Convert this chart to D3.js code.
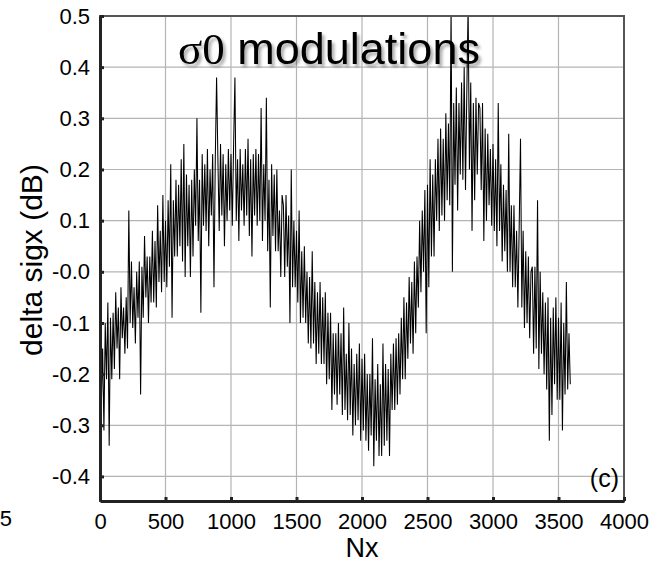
<!DOCTYPE html>
<html>
<head>
<meta charset="utf-8">
<script src="https://cdn.jsdelivr.net/npm/d3@7"></script>
<style>
  body { margin: 0; background: #fff; }
  text { font-family: "Liberation Sans", Arial, sans-serif; }
</style>
</head>
<body>
<script>
var width = 654;
var height = 562;
var margin = {top: 16, right: 30, bottom: 61, left: 100}; // plot frame

// delta sigx (dB), one sample every 10 Nx starting at 0
var nxStep = 10;
var sigx = [
  -0.13, -0.26, -0.15, -0.31, -0.10, -0.21, -0.06, -0.34, -0.09, -0.21,
  -0.08, -0.19, -0.04, -0.15, -0.07, -0.21, -0.03, -0.13, -0.07, -0.16,
  -0.05, -0.15, 0.12, -0.10, 0.02, -0.11, -0.03, -0.14, 0.00, -0.09,
  0.02, -0.24, 0.01, -0.09, 0.07, -0.05, 0.03, -0.10, 0.03, -0.06,
  0.08, -0.06, 0.06, -0.07, 0.13, -0.02, 0.08, -0.04, 0.15, -0.02,
  0.10, -0.03, 0.14, 0.01, 0.21, -0.09, 0.14, 0.03, 0.18, 0.03,
  0.17, 0.05, 0.22, 0.02, 0.25, -0.01, 0.19, 0.05, 0.17, -0.01,
  0.18, 0.03, 0.20, 0.09, 0.30, 0.06, 0.18, -0.08, 0.23, 0.09,
  0.21, 0.08, 0.24, 0.05, 0.20, 0.11, 0.23, -0.03, 0.22, 0.38,
  0.22, 0.08, 0.25, 0.11, 0.23, 0.05, 0.21, 0.10, 0.24, 0.12,
  0.23, 0.09, 0.25, 0.38, 0.10, 0.22, 0.06, 0.24, 0.12, 0.21,
  0.09, 0.24, 0.11, 0.26, 0.07, 0.22, 0.03, 0.23, 0.11, 0.24,
  0.09, 0.23, 0.10, 0.32, 0.06, 0.21, 0.10, 0.34, 0.04, 0.18,
  -0.07, 0.21, 0.07, 0.19, 0.04, 0.20, 0.04, 0.12, -0.01, 0.15,
  0.13, -0.01, 0.15, 0.01, 0.11, -0.10, 0.20, -0.03, 0.10, -0.03,
  0.08, -0.06, 0.12, -0.10, 0.04, -0.09, 0.05, -0.10, 0.00, -0.14,
  -0.01, -0.15, 0.04, -0.14, -0.02, -0.18, -0.04, -0.16, -0.02, -0.18,
  -0.05, -0.18, -0.04, -0.22, -0.08, -0.21, -0.08, -0.27, -0.12, -0.24,
  -0.12, -0.26, -0.10, -0.24, -0.12, -0.28, -0.07, -0.27, -0.16, -0.29,
  -0.10, -0.28, -0.15, -0.32, -0.18, -0.30, -0.16, -0.29, -0.14, -0.33,
  -0.17, -0.31, -0.16, -0.33, -0.20, -0.35, -0.20, -0.32, -0.13, -0.38,
  -0.21, -0.33, -0.18, -0.36, -0.22, -0.36, -0.14, -0.34, -0.18, -0.33,
  -0.19, -0.36, -0.16, -0.27, -0.14, -0.27, -0.13, -0.26, -0.12, -0.24,
  -0.09, -0.21, -0.05, -0.21, -0.06, -0.17, -0.01, -0.14, -0.02, -0.16,
  0.02, -0.12, 0.03, -0.07, 0.10, -0.04, 0.12, 0.00, 0.16, -0.12,
  0.17, -0.03, 0.22, 0.03, 0.19, 0.03, 0.22, 0.10, 0.26, 0.08,
  0.28, 0.11, 0.26, 0.10, 0.31, 0.14, 0.29, 0.13, 0.52, 0.00,
  0.33, 0.17, 0.36, 0.12, 0.33, 0.19, 0.37, 0.18, 0.40, 0.16,
  0.35, 0.52, 0.20, 0.37, 0.08, 0.33, 0.14, 0.34, 0.19, 0.33,
  0.32, 0.16, 0.33, 0.06, 0.28, 0.10, 0.27, 0.13, 0.24, 0.09,
  0.25, 0.08, 0.22, 0.05, 0.33, 0.08, 0.21, 0.02, 0.17, 0.04,
  0.16, 0.00, 0.27, 0.00, 0.13, -0.03, 0.13, -0.03, 0.08, -0.07,
  0.09, 0.26, -0.07, 0.08, -0.11, 0.04, -0.10, 0.03, -0.13, 0.00,
  0.01, -0.16, 0.01, -0.15, 0.14, -0.19, 0.00, -0.16, -0.04, -0.20,
  -0.06, -0.23, -0.05, -0.33, -0.09, -0.28, -0.07, -0.22, -0.05, -0.25,
  -0.09, -0.25, -0.06, -0.31, -0.10, -0.24, -0.02, -0.23, -0.12, -0.22
];

var xTicks = [0, 500, 1000, 1500, 2000, 2500, 3000, 3500, 4000];
var yTicks = [0.5, 0.4, 0.3, 0.2, 0.1, 0.0, -0.1, -0.2, -0.3, -0.4];
var yTickLabels = ["0.5", "0.4", "0.3", "0.2", "0.1", "-0.0", "-0.1", "-0.2", "-0.3", "-0.4"];

var svg = d3.select("body").append("svg")
    .attr("width", width)
    .attr("height", height);

var x = d3.scaleLinear().domain([0, 4000]).range([margin.left, width - margin.right]);
var y = d3.scaleLinear().domain([-0.448, 0.5]).range([height - margin.bottom, margin.top]);

var defs = svg.append("defs");
defs.append("clipPath").attr("id", "plotclip")
  .append("rect")
    .attr("x", x(0)).attr("y", y(0.5))
    .attr("width", x(4000) - x(0)).attr("height", y(-0.448) - y(0.5));

var shadow = defs.append("filter").attr("id", "shadow")
    .attr("x", "-10%").attr("y", "-20%").attr("width", "130%").attr("height", "160%");
shadow.append("feDropShadow")
    .attr("dx", 2.5).attr("dy", 3).attr("stdDeviation", 1.8)
    .attr("flood-color", "#000").attr("flood-opacity", 0.35);

// grid
svg.append("g")
  .selectAll("line")
  .data(xTicks.slice(1, -1))
  .enter().append("line")
    .attr("x1", function(d) { return x(d); })
    .attr("x2", function(d) { return x(d); })
    .attr("y1", y(0.5)).attr("y2", y(-0.448))
    .attr("stroke", "#b4b4b4").attr("stroke-width", 1.2);

svg.append("g")
  .selectAll("line")
  .data(yTicks.slice(1))
  .enter().append("line")
    .attr("x1", x(0)).attr("x2", x(4000))
    .attr("y1", function(d) { return y(d); })
    .attr("y2", function(d) { return y(d); })
    .attr("stroke", "#b4b4b4").attr("stroke-width", 1.2);

// title sits under the trace
var title = svg.append("text")
    .attr("x", 178).attr("y", 64)
    .attr("font-size", 45)
    .attr("fill", "#000")
    .attr("filter", "url(#shadow)");
title.append("tspan")
    .style("font-family", "'Liberation Serif', 'Times New Roman', serif")
    .text("σ0");
title.append("tspan")
    .text(" modulations");

var line = d3.line()
    .x(function(d, i) { return x(i * nxStep); })
    .y(function(d) { return y(d); });

svg.append("path")
    .datum(sigx)
    .attr("clip-path", "url(#plotclip)")
    .attr("fill", "none")
    .attr("stroke", "#000")
    .attr("stroke-width", 1.05)
    .attr("stroke-linejoin", "miter")
    .attr("d", line);

// frame
svg.append("rect")
    .attr("x", x(0)).attr("y", y(0.5))
    .attr("width", x(4000) - x(0)).attr("height", y(-0.448) - y(0.5))
    .attr("fill", "none").attr("stroke", "#555").attr("stroke-width", 2);

var xAxis = svg.append("g")
    .attr("transform", "translate(0," + y(-0.448) + ")")
    .call(d3.axisBottom(x).tickValues(xTicks).tickSizeInner(-4).tickSizeOuter(0).tickPadding(12)
      .tickFormat(function(d) { return d; }));
xAxis.select(".domain").attr("stroke", "#222").attr("stroke-width", 3);
xAxis.selectAll(".tick line").attr("stroke", "#222").attr("stroke-width", 3);
xAxis.selectAll("text").attr("font-size", 22).attr("fill", "#000")
    .style("font-family", "'Liberation Sans', Arial, sans-serif");

var yAxis = svg.append("g")
    .attr("transform", "translate(" + x(0) + ",0)")
    .call(d3.axisLeft(y).tickValues(yTicks).tickSizeInner(-4).tickSizeOuter(0).tickPadding(10)
      .tickFormat(function(d, i) { return yTickLabels[i]; }));
yAxis.select(".domain").attr("stroke", "#222").attr("stroke-width", 3);
yAxis.selectAll(".tick line").attr("stroke", "#222").attr("stroke-width", 3);
yAxis.selectAll("text").attr("font-size", 22).attr("fill", "#000")
    .style("font-family", "'Liberation Sans', Arial, sans-serif");

// axis labels
svg.append("text")
    .attr("x", (x(0) + x(4000)) / 2).attr("y", 557)
    .attr("text-anchor", "middle")
    .attr("font-size", 27)
    .text("Nx");

svg.append("text")
    .attr("transform", "translate(41.5,260) rotate(-90)")
    .attr("text-anchor", "middle")
    .attr("font-size", 30)
    .text("delta sigx (dB)");

svg.append("text")
    .attr("x", 619).attr("y", 487)
    .attr("text-anchor", "end")
    .attr("font-size", 25)
    .text("(c)");

// edge of the neighbouring panel's tick label
svg.append("text")
    .attr("x", 12).attr("y", 526)
    .attr("text-anchor", "end")
    .attr("font-size", 22)
    .text("5");
</script>
</body>
</html>
